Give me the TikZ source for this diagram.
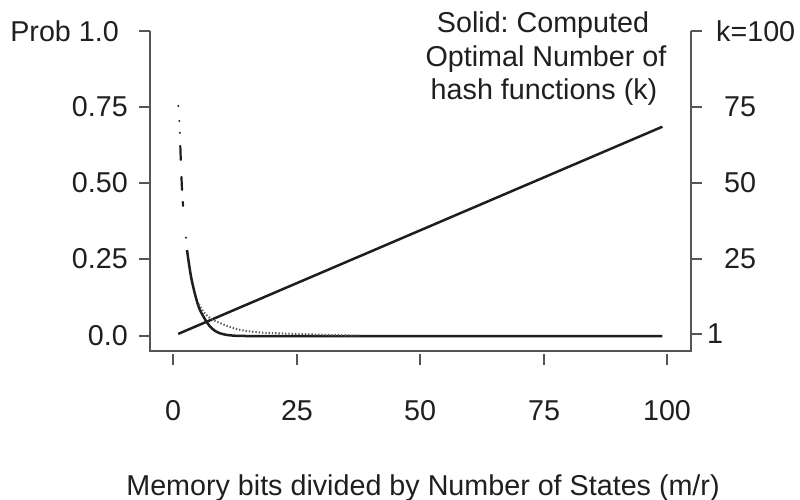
\documentclass[tikz,border=0pt]{standalone}
\usepackage{fontspec}
\setmainfont{Liberation Sans}
\frenchspacing
\definecolor{axisgray}{HTML}{555555}
\definecolor{curveblack}{HTML}{1E1E1E}
\definecolor{textgray}{HTML}{1F1F1F}
\begin{document}
\begin{tikzpicture}[x=1pt,y=-1pt,
  axisline/.style={line width=2.6pt, draw=axisgray, line join=miter},
  tickmark/.style={line width=2.4pt, draw=axisgray},
  curve/.style={line width=2.5pt, draw=curveblack, line join=round},
  sparsedots/.style={line width=2.2pt, draw=curveblack, line cap=round,
    dash pattern=on 0pt off 15pt on 0pt off 12pt on 0pt off 13pt on 14pt off 17pt
                 on 13pt off 12pt on 4pt off 32pt on 0pt off 30pt},
  finedots/.style={line width=2pt, draw=curveblack!75, dash pattern=on 1.3pt off 2pt},
  lbl/.style={inner sep=0pt, text=textgray, font=\fontsize{28.7}{33}\selectfont},
]
\useasboundingbox (0,0) rectangle (800,500);

% frame: left axis, bottom line, right axis
\coordinate (tl) at (150,31);
\coordinate (bl) at (150,351);
\coordinate (br) at (691,351);
\coordinate (tr) at (691,31);
\draw[axisline] (tl) -- (bl) -- (br) -- (tr);

% left (probability) axis
\foreach \yy in {31,107,183,259,336}
  \draw[tickmark] (139,\yy) -- (150,\yy);
\node[lbl, anchor=east] (p100) at (119,31)  {Prob 1.0};
\node[lbl, anchor=east] (p075) at (128,107) {0.75};
\node[lbl, anchor=east] (p050) at (128,183) {0.50};
\node[lbl, anchor=east] (p025) at (128,259) {0.25};
\node[lbl, anchor=east] (p000) at (128,336) {0.0};

% right (k) axis
\foreach \yy in {31,107,183,259,334}
  \draw[tickmark] (691,\yy) -- (702,\yy);
\node[lbl, anchor=west] (k100) at (716,31)  {k=100};
\node[lbl, anchor=west] (k75)  at (724,107) {75};
\node[lbl, anchor=west] (k50)  at (724,183) {50};
\node[lbl, anchor=west] (k25)  at (724,259) {25};
\node[lbl, anchor=west] (k1)   at (707,334) {1};

% bottom (m/r) axis
\foreach \xx/\t/\nm in {173/0/x0,297/25/x25,420/50/x50,544/75/x75,667/100/x100}{
  \draw[tickmark] (\xx,354) -- (\xx,365);
  \node[lbl, anchor=base] (\nm) at (\xx,420.3) {\t};
}
\node[lbl, anchor=base] (xtitle) at (423,495) {Memory bits divided by Number of States (m/r)};

% legend text
\node[lbl, anchor=base] (leg1) at (543,33)  {Solid: Computed};
\node[lbl, anchor=base] (leg2) at (546,66.5) {Optimal Number of};
\node[lbl, anchor=base] (leg3) at (544,100) {hash functions (k)};

% optimal number of hash functions k = (m/r) ln 2
\coordinate (kstart) at (178.2,333.9);
\coordinate (kend)   at (662.4,126.7);
\draw[curve] (kstart) -- (kend);

% false-positive probability: sparse points where the curve is steep
\draw[sparsedots] plot[smooth, tension=0.6] coordinates
  {(178.3,106) (179.4,122) (180.1,140) (180.8,160) (181.8,185) (183,205) (185,226) (187,250)};

% false-positive probability, dense part
\coordinate (pend) at (662.4,336);
\draw[curve] plot[smooth, tension=0.6] coordinates
  {(187,250) (189.3,266) (191.7,280) (196,298) (200,310) (206.7,322) (212,328.5)
   (218,332.5) (226,334.8) (236,335.8) (246,336)} -- (pend);

% second probability series, dotted
\draw[finedots] plot[smooth, tension=0.6] coordinates
  {(199,304) (203,311) (208,316.5) (214,320.5) (220,323) (230,327) (240,329.8)
   (253,331.8) (270,333) (300,334) (330,335) (360,335.7)};
\end{tikzpicture}
\end{document}
